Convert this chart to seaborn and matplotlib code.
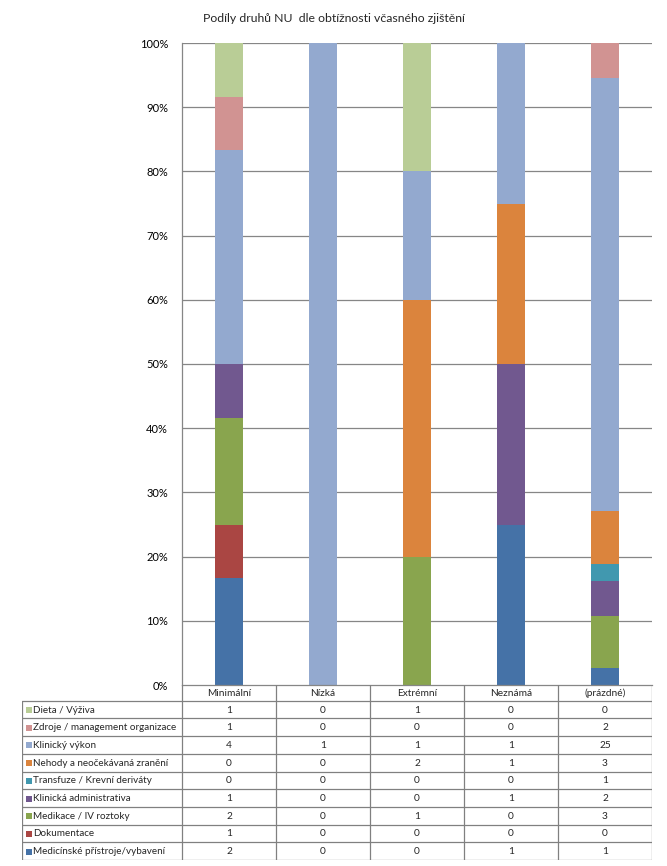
import numpy as np
import pandas as pd
import matplotlib
matplotlib.use("Agg")
import matplotlib.pyplot as plt
import seaborn as sns
from matplotlib.ticker import PercentFormatter

# ---------- data ----------
categories = ["Minimální", "Nízká", "Extrémní", "Neznámá", "(prázdné)"]

# series listed bottom -> top of the stack
series_names = [
    "Medicínské přístroje/vybavení",
    "Dokumentace",
    "Medikace / IV roztoky",
    "Klinická administrativa",
    "Transfuze / Krevní deriváty",
    "Nehody a neočekávaná zranění",
    "Klinický výkon",
    "Zdroje / management organizace",
    "Dieta / Výživa",
]
pristroje = [2, 0, 0, 1, 1]
dokumentace = [1, 0, 0, 0, 0]
medikace = [2, 0, 1, 0, 3]
administrativa = [1, 0, 0, 1, 2]
transfuze = [0, 0, 0, 0, 1]
nehody = [0, 0, 2, 1, 3]
klinicky_vykon = [4, 1, 1, 1, 25]
zdroje = [1, 0, 0, 0, 2]
dieta = [1, 0, 1, 0, 0]

series_values = [pristroje, dokumentace, medikace, administrativa, transfuze,
                 nehody, klinicky_vykon, zdroje, dieta]
colors = ["#4572A7", "#AA4643", "#89A54E", "#71588F", "#4198AF",
          "#DB843D", "#93A9CF", "#D19392", "#B9CD96"]

counts = pd.DataFrame(series_values, index=series_names, columns=categories)
shares = counts / counts.sum(axis=0)
cum = shares.cumsum(axis=0)

# ---------- figure ----------
sns.set_style("white")
plt.rcParams["font.family"] = ["Lato", "DejaVu Sans"]
W, H = 667, 866
fig = plt.figure(figsize=(W / 100, H / 100), dpi=100)

px_left, px_right, px_top, px_bottom = 182, 652, 43, 685
ax = fig.add_axes([px_left / W, 1 - px_bottom / H,
                   (px_right - px_left) / W, (px_bottom - px_top) / H])

grid_col = "#868686"
for y in np.arange(0.1, 1.01, 0.1):
    ax.axhline(y, color=grid_col, lw=0.9, zorder=0)

# stacked bars: draw cumulative heights from the top series down
for name, col in zip(reversed(series_names), reversed(colors)):
    df = pd.DataFrame({"kat": categories, "val": cum.loc[name].values})
    sns.barplot(data=df, x="kat", y="val", order=categories, color=col,
                width=0.3, saturation=1, linewidth=0, ax=ax, zorder=2)

ax.set_xlim(-0.5, 4.5)
ax.set_ylim(0, 1)
ax.set_yticks(np.arange(0, 1.01, 0.1))
ax.yaxis.set_major_formatter(PercentFormatter(1.0, decimals=0))
ax.tick_params(axis="y", length=4, color=grid_col, labelsize=8, pad=6,
               labelcolor="#000000")
ax.set_xticks([])
ax.set_xlabel("")
ax.set_ylabel("")
for s in ["top", "right"]:
    ax.spines[s].set_visible(False)
ax.spines["left"].set_color(grid_col)
ax.spines["bottom"].set_color(grid_col)
ax.spines["left"].set_linewidth(0.9)
ax.spines["bottom"].set_linewidth(0.9)

fig.text(0.5, 1 - 18 / H, "Podíly druhů NU  dle obtížnosti včasného zjištění",
         ha="center", va="center", fontsize=8.8)

# ---------- data table under the plot ----------
tab_left, tab_bottom = 22, 860
col_w = (px_right - px_left) / len(categories)
tax = fig.add_axes([tab_left / W, 1 - tab_bottom / H,
                    (px_right - tab_left) / W, (tab_bottom - px_bottom) / H])
x0 = -0.5 - (px_left - tab_left) / col_w
tax.set_xlim(x0, 4.5)
tax.set_ylim(tab_bottom - px_bottom, 0)
tax.axis("off")

head_h = 15.7
row_h = (tab_bottom - px_bottom - head_h) / len(series_names)
line_kw = dict(color="#808080", lw=0.9)
# horizontal lines
for i in range(len(series_names) + 1):
    y = head_h + i * row_h
    tax.plot([x0, 4.5], [y, y], **line_kw)
# vertical lines
tax.plot([x0, x0], [head_h, tab_bottom - px_bottom], **line_kw)
for j in range(len(categories) + 1):
    xx = -0.5 + j
    tax.plot([xx, xx], [0, tab_bottom - px_bottom], **line_kw)

for j, cat in enumerate(categories):
    tax.text(j, head_h / 2 + 0.8, cat, ha="center", va="center", fontsize=7.3)

# rows top -> bottom: reverse of stack order
for i, (name, col) in enumerate(zip(reversed(series_names), reversed(colors))):
    yc = head_h + (i + 0.5) * row_h + 0.5
    tax.scatter([x0 + 0.075], [yc], marker="s", s=13, color=col, linewidths=0)
    tax.text(x0 + 0.115, yc, name, ha="left", va="center", fontsize=7.1)
    for j, cat in enumerate(categories):
        tax.text(j, yc, str(counts.loc[name, cat]), ha="center", va="center",
                 fontsize=7.3)

fig.savefig("out.png", dpi=100)
